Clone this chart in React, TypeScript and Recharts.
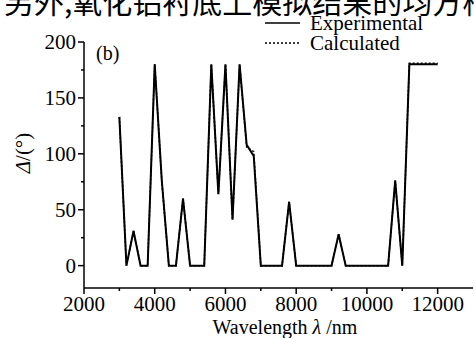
import { LineChart, Line, XAxis, YAxis, Label } from 'recharts';

const wavelengths = [
  3000, 3200, 3400, 3600, 3800, 4000, 4200, 4400, 4600, 4800, 5000, 5400, 5600, 5800, 6000, 6200,
  6400, 6600, 6800, 7000, 7600, 7800, 8000, 9000, 9200, 9400, 10600, 10800, 11000, 11200, 12000,
];
const experimental = [
  133, 0, 31, 0, 0, 180, 76, 0, 0, 60, 0, 0, 180, 64, 180, 41, 180, 108, 98, 0, 0, 57, 0, 0, 28, 0,
  0, 76, 0, 180, 180,
];
const calculated = [
  133, 0, 31, 0, 0, 180, 76, 0, 0, 60, 0, 0, 180, 64, 180, 41, 180, 106, 102, 0, 0, 57, 0, 0, 28, 0,
  0, 76, 0, 181, 181,
];
const xTicks = [2000, 3000, 4000, 5000, 6000, 7000, 8000, 9000, 10000, 11000, 12000];
const yTicks = [0, 25, 50, 75, 100, 125, 150, 175, 200];
const seriesNames = ['Experimental', 'Calculated'];
const caption = '另外,氧化铝衬底上模拟结果的均方根';

const data = wavelengths.map((w, i) => ({ w, exp: experimental[i], calc: calculated[i] }));

const serif = '"Liberation Serif", "DejaVu Serif", serif';

function XTick({ x, y, payload }: any) {
  const major = payload.value % 2000 === 0;
  return (
    <g>
      <line x1={x} x2={x} y1={y} y2={y + (major ? 6 : 3)} stroke="#000" strokeWidth={1.5} />
      {major && (
        <text x={x} y={y + 23} textAnchor="middle" fontSize={21} fontFamily={serif} fill="#000">
          {payload.value}
        </text>
      )}
    </g>
  );
}

function YTick({ x, y, payload }: any) {
  const major = payload.value % 50 === 0;
  return (
    <g>
      <line x1={x} x2={x - (major ? 6 : 3)} y1={y} y2={y} stroke="#000" strokeWidth={1.5} />
      {major && (
        <text x={x - 8} y={y + 7} textAnchor="end" fontSize={21} fontFamily={serif} fill="#000">
          {payload.value}
        </text>
      )}
    </g>
  );
}

export default function App() {
  return (
    <div style={{ position: 'absolute', left: 0, top: 0, width: 474, height: 338, background: '#fff', overflow: 'hidden' }}>
      <LineChart width={474} height={338} data={data} margin={{ top: 42, right: 1, bottom: 0, left: 0 }}>
        <XAxis
          dataKey="w"
          type="number"
          domain={[2000, 13000]}
          ticks={xTicks}
          interval={0}
          tickSize={0}
          tickMargin={0}
          tick={<XTick />}
          stroke="#000"
          strokeWidth={1.5}
          height={50}
        >
          <Label
            content={() => (
              <text x={285} y={334} textAnchor="middle" fontSize={20} fontFamily={serif} fill="#000">
                Wavelength <tspan fontStyle="italic">λ</tspan> /nm
              </text>
            )}
          />
        </XAxis>
        <YAxis
          type="number"
          domain={[-20, 200]}
          ticks={yTicks}
          interval={0}
          tickSize={0}
          tickMargin={0}
          tick={<YTick />}
          stroke="#000"
          strokeWidth={1.5}
          width={84}
        >
          <Label
            content={() => (
              <text
                x={25}
                y={153}
                textAnchor="middle"
                fontSize={21}
                fontFamily={serif}
                fill="#000"
                transform="rotate(-90 25 153)"
                dominantBaseline="middle"
              >
                <tspan fontStyle="italic">Δ</tspan>/(°)
              </text>
            )}
          />
        </YAxis>
        <Line
          dataKey="exp"
          name={seriesNames[0]}
          stroke="#000"
          strokeWidth={2}
          dot={false}
          isAnimationActive={false}
        />
        <Line
          dataKey="calc"
          name={seriesNames[1]}
          stroke="#000"
          strokeWidth={1.5}
          strokeDasharray="2 2"
          dot={false}
          isAnimationActive={false}
        />
      </LineChart>
      <svg width={474} height={70} style={{ position: 'absolute', left: 0, top: 0, pointerEvents: 'none' }}>
        <text x={4} y={13} fontSize={30} fontFamily='"Noto Sans CJK SC"' fill="#000">
          {caption}
        </text>
        <text x={96} y={60} fontSize={20} fontFamily={serif} fill="#000">
          (b)
        </text>
        <line x1={265} x2={300} y1={23} y2={23} stroke="#000" strokeWidth={1.5} />
        <text x={310} y={30} fontSize={21} fontFamily={serif} fill="#000">
          {seriesNames[0]}
        </text>
        <line x1={265} x2={300} y1={43} y2={43} stroke="#000" strokeWidth={1.5} strokeDasharray="2 2" />
        <text x={310} y={50} fontSize={21} fontFamily={serif} fill="#000">
          {seriesNames[1]}
        </text>
      </svg>
    </div>
  );
}
